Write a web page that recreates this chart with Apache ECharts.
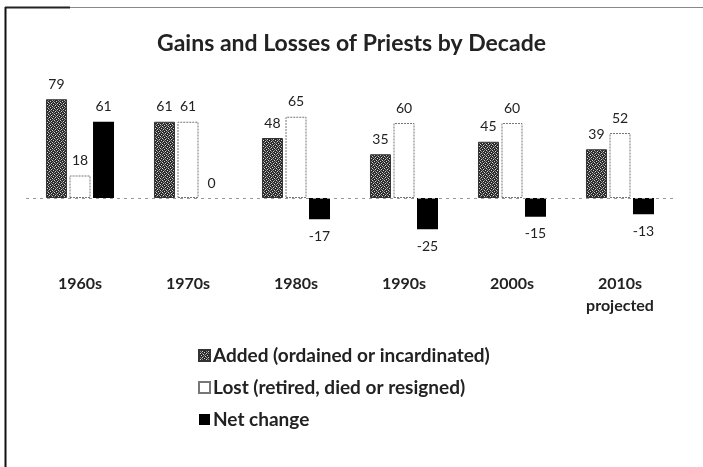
<!DOCTYPE html>
<html>
<head>
<meta charset="utf-8">
<script src="https://cdn.jsdelivr.net/npm/echarts@6/dist/echarts.min.js"></script>
<style>
html,body{margin:0;padding:0;background:#fff;}
#c{width:703px;height:467px;}
</style>
</head>
<body>
<div id="c"></div>
<script>
const categories = ['1960s', '1970s', '1980s', '1990s', '2000s', '2010s\nprojected'];
const added = [79, 61, 48, 35, 45, 39];
const lost = [18, 61, 65, 60, 60, 52];
const net = [61, 0, -17, -25, -15, -13];
const seriesNames = ['Added (ordained or incardinated)', 'Lost (retired, died or resigned)', 'Net change'];

// dark speckled pattern for "Added"
function makePattern() {
  const c = document.createElement('canvas');
  c.width = 6; c.height = 6;
  const ctx = c.getContext('2d');
  ctx.fillStyle = '#2a2a2a';
  ctx.fillRect(0, 0, 6, 6);
  ctx.fillStyle = '#d5d5d5';
  const pts = [[0,0],[3,1],[1,3],[4,4],[5,2],[2,5]];
  pts.forEach(p => ctx.fillRect(p[0], p[1], 1, 1));
  ctx.fillStyle = '#888';
  [[1,1],[4,0],[0,4],[3,3],[5,5],[2,2]].forEach(p => ctx.fillRect(p[0], p[1], 1, 1));
  return c;
}
const pattern = {image: makePattern(), repeat: 'repeat'};

const labelFont = {fontFamily: 'Lato', fontSize: 14, color: '#222'};
function items(arr) {
  return arr.map(v => ({value: v, label: {position: v < 0 ? 'bottom' : 'top', distance: v < 0 ? 10 : 8}}));
}

const chart = echarts.init(document.getElementById('c'), null, {renderer: 'canvas'});
chart.setOption({
  animation: false,
  backgroundColor: '#fff',
  title: {
    text: 'Gains and Losses of Priests by Decade',
    left: 'center',
    top: 27,
    textStyle: {fontFamily: 'Lato', fontWeight: 'bold', fontSize: 23, color: '#222'}
  },
  legend: {
    orient: 'vertical',
    left: 193,
    top: 341,
    itemWidth: 11,
    itemHeight: 11,
    itemGap: 13,
    icon: 'rect',
    textStyle: {fontFamily: 'Lato', fontWeight: 'bold', fontSize: 19, color: '#222', padding: [0, 0, 0, -2]},
    data: seriesNames
  },
  grid: {left: 26, right: 29, top: 98, bottom: 194, containLabel: false},
  xAxis: {
    type: 'category',
    data: categories,
    axisLine: {show: false, onZero: false},
    axisTick: {show: false},
    axisLabel: {margin: 0, fontFamily: 'Lato', fontWeight: 'bold', fontSize: 16, color: '#222', lineHeight: 22}
  },
  yAxis: {
    type: 'value',
    min: -60,
    max: 80,
    show: false,
    splitLine: {show: false}
  },
  series: [
    {
      name: seriesNames[0],
      type: 'bar',
      barWidth: 21,
      barGap: '12%',
      data: items(added),
      itemStyle: {color: pattern, borderColor: '#333', borderWidth: 1},
      label: Object.assign({show: true}, labelFont),
      markLine: {
        silent: true,
        symbol: 'none',
        label: {show: false},
        lineStyle: {color: '#999', type: [3, 4], width: 1},
        data: [{yAxis: 0}]
      }
    },
    {
      name: seriesNames[1],
      type: 'bar',
      barWidth: 21,
      data: items(lost),
      itemStyle: {color: '#fff', borderColor: '#777', borderWidth: 1, borderType: [2, 1]},
      label: Object.assign({show: true}, labelFont)
    },
    {
      name: seriesNames[2],
      type: 'bar',
      barWidth: 21,
      data: items(net),
      itemStyle: {color: '#000'},
      label: Object.assign({show: true}, labelFont)
    }
  ],
  graphic: [
    {type: 'line', shape: {x1: 5.5, y1: 7, x2: 5.5, y2: 467}, style: {stroke: '#111', lineWidth: 2}, silent: true},
    {type: 'line', shape: {x1: 5, y1: 7.5, x2: 703, y2: 7.5}, style: {stroke: '#888', lineWidth: 1}, silent: true},
    {type: 'line', shape: {x1: 5, y1: 7.5, x2: 70, y2: 7.5}, style: {stroke: '#222', lineWidth: 2}, silent: true}
  ]
});
</script>
</body>
</html>
